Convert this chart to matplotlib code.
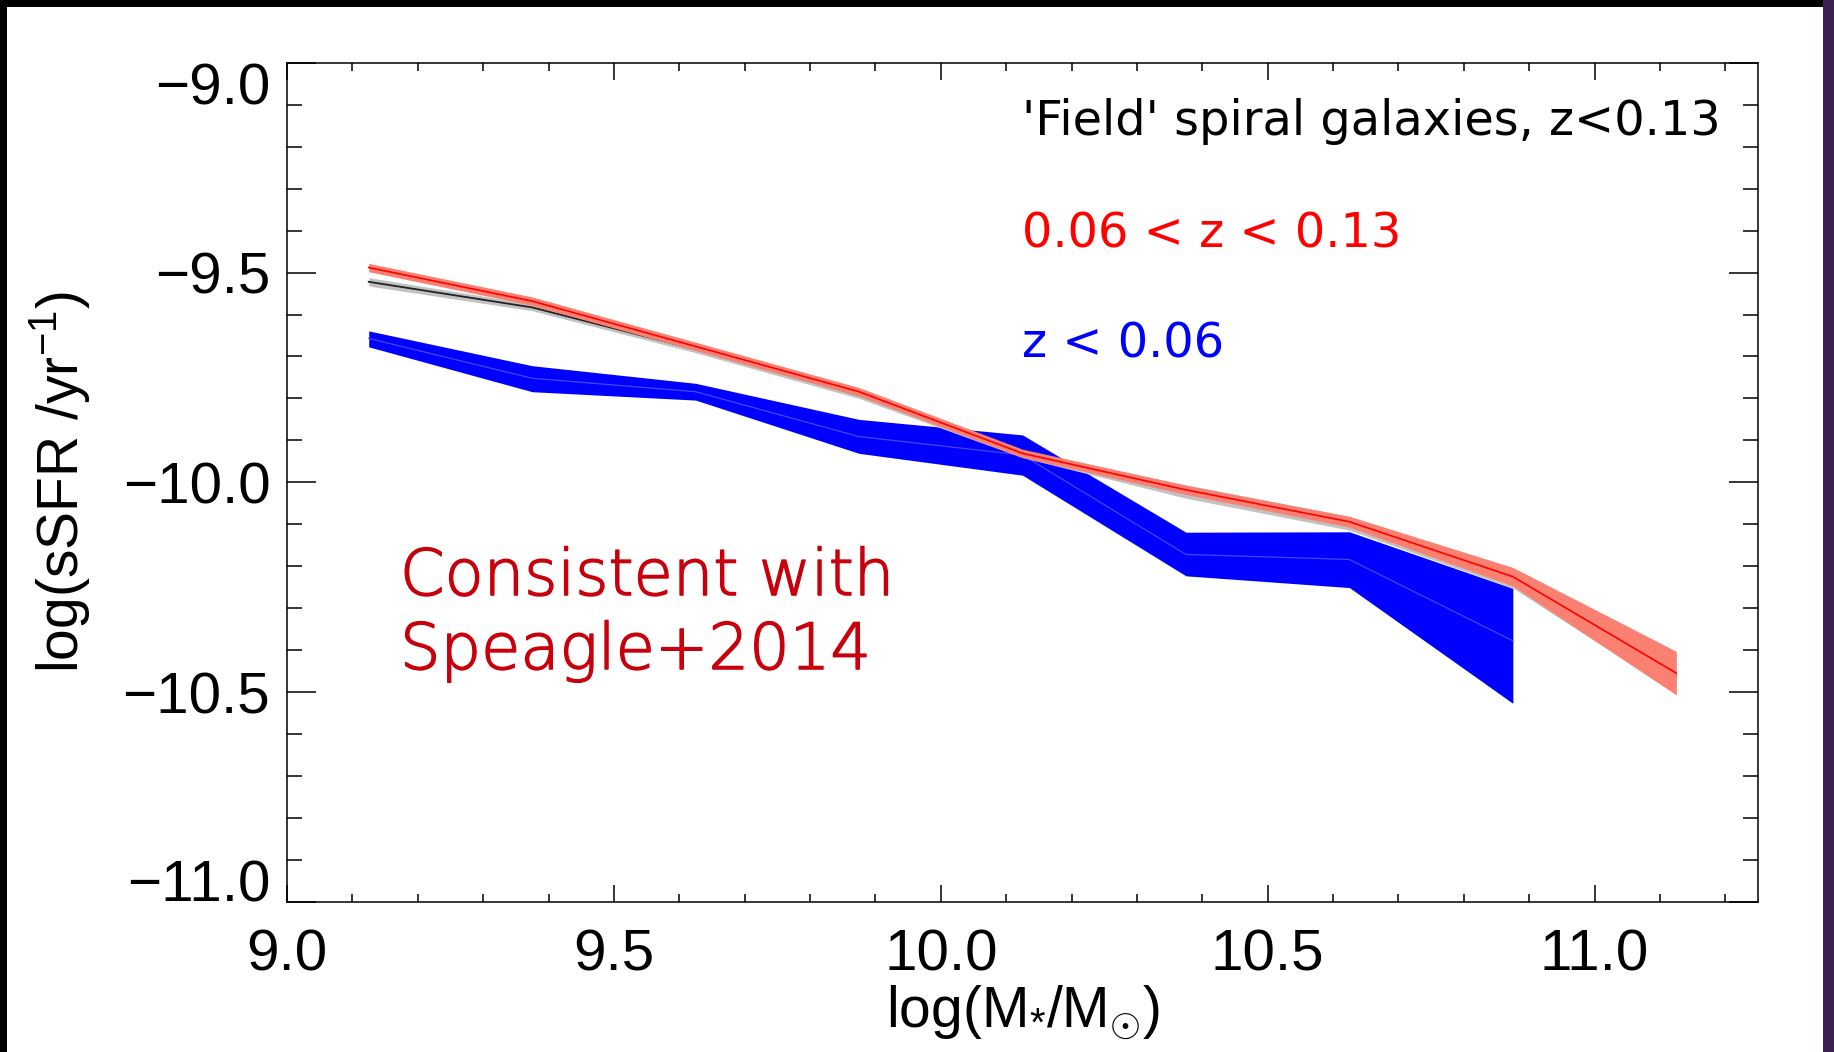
import matplotlib
matplotlib.use("Agg")
import matplotlib.pyplot as plt
import matplotlib.patheffects as pe
from matplotlib.patches import Rectangle
from matplotlib.ticker import MultipleLocator

# ---------------- data ----------------
mass_bins = [9.125, 9.375, 9.625, 9.875, 10.125, 10.375, 10.625, 10.875, 11.125]

# 'Field' spiral galaxies, z<0.13 (black line, grey band)
field_med = [-9.522, -9.583, -9.683, -9.792, -9.933, -10.022, -10.098, -10.232, -10.462]
field_err = [0.010, 0.008, 0.008, 0.008, 0.008, 0.016, 0.016, 0.020, 0.042]

# 0.06 < z < 0.13 (red line, salmon band)
red_med = [-9.488, -9.568, -9.676, -9.784, -9.931, -10.018, -10.094, -10.225, -10.455]
red_err = [0.010, 0.010, 0.010, 0.010, 0.010, 0.011, 0.013, 0.022, 0.052]

# z < 0.06 (blue band), first 8 bins
blue_mass = mass_bins[:8]
blue_med = [-9.657, -9.752, -9.784, -9.891, -9.935, -10.172, -10.184, -10.378]
blue_lo = [-9.677, -9.784, -9.804, -9.931, -9.983, -10.223, -10.251, -10.527]
blue_hi = [-9.639, -9.722, -9.764, -9.850, -9.887, -10.119, -10.118, -10.253]

xticks = [9.0, 9.5, 10.0, 10.5, 11.0]
xtick_labels = ["9.0", "9.5", "10.0", "10.5", "11.0"]
yticks = [-11.0, -10.5, -10.0, -9.5, -9.0]
ytick_labels = ["\u221211.0", "\u221210.5", "\u221210.0", "\u22129.5", "\u22129.0"]

# ---------------- style ----------------
plt.rcParams["font.family"] = ["Liberation Sans", "DejaVu Sans"]
plt.rcParams["mathtext.fontset"] = "custom"
plt.rcParams["mathtext.rm"] = "Liberation Sans"
plt.rcParams["mathtext.it"] = "Liberation Sans:italic"
plt.rcParams["mathtext.bf"] = "Liberation Sans:bold"

W, H = 1834, 1052
fig = plt.figure(figsize=(W / 100, H / 100), dpi=100, facecolor="black")

# white panel and purple strip on the right
fig.patches.append(Rectangle((7 / W, 0), (1823 - 7) / W, 1 - 7 / H,
                             transform=fig.transFigure, facecolor="white",
                             edgecolor="none", zorder=-10))
fig.patches.append(Rectangle((1823 / W, 0), 1 - 1823 / W, 1,
                             transform=fig.transFigure, facecolor="#3a2150",
                             edgecolor="none", zorder=-10))

ax = fig.add_axes([287 / W, 1 - 901.7 / H, (1758 - 287) / W, (901.7 - 62.9) / H])
ax.set_zorder(5)
ax.set_facecolor("white")

# blue band (z<0.06)
ax.fill_between(blue_mass, blue_lo, blue_hi, color="#0000ff", linewidth=0, zorder=2)
ax.plot(blue_mass, blue_med, color="#4646ff", linewidth=0.9, zorder=3)

# grey band + black line (field)
f_lo = [m - e for m, e in zip(field_med, field_err)]
f_hi = [m + e for m, e in zip(field_med, field_err)]
ax.fill_between(mass_bins, f_lo, f_hi, color="#c2c2c2", linewidth=0, zorder=4)
ax.plot(mass_bins, field_med, color="#222222", linewidth=1.3, zorder=5)

# red band + red line
r_lo = [m - e for m, e in zip(red_med, red_err)]
r_hi = [m + e for m, e in zip(red_med, red_err)]
ax.fill_between(mass_bins, r_lo, r_hi, color="#fa8072", linewidth=0, zorder=6)
ax.plot(mass_bins, red_med, color="#ff0000", linewidth=1.2, zorder=7)

ax.set_xlim(9.0, 11.25)
ax.set_ylim(-11.0, -9.0)

ax.set_xticks(xticks)
ax.set_xticklabels(xtick_labels)
ax.set_yticks(yticks)
ax.set_yticklabels(ytick_labels)
ax.xaxis.set_minor_locator(MultipleLocator(0.1))
ax.yaxis.set_minor_locator(MultipleLocator(0.1))

for sp in ax.spines.values():
    sp.set_linewidth(1.1)
    sp.set_color("black")

ax.tick_params(which="both", direction="in", top=True, right=True,
               width=1.1, color="black", labelsize=42)
ax.tick_params(axis="x", which="major", length=12, pad=19)
ax.tick_params(axis="x", which="minor", length=6)
ax.tick_params(axis="y", which="major", length=21, pad=12)
ax.tick_params(axis="y", which="minor", length=10.5)

ylabs = ax.get_yticklabels()
ylabs[0].set_va("baseline")
ylabs[-1].set_va("top")

ax.set_xlabel(r"log(M$_{*}$/M$_{\odot}$)", fontsize=41, labelpad=1)
ax.set_ylabel(r"log(sSFR /yr$^{-1}$)", fontsize=41, labelpad=22)

# annotations
ax.text(0.4997, 0.914, "'Field' spiral galaxies, z<0.13", transform=ax.transAxes,
        fontsize=34.5, family="DejaVu Sans", color="black", va="baseline", ha="left")
ax.text(0.4997, 0.7805, "0.06 < z < 0.13", transform=ax.transAxes,
        fontsize=34.5, family="DejaVu Sans", color="#ff0000", va="baseline", ha="left")
ax.text(0.4997, 0.6493, "z < 0.06", transform=ax.transAxes,
        fontsize=34.5, family="DejaVu Sans", color="#0000ff", va="baseline", ha="left")

thick = [pe.withStroke(linewidth=1.1, foreground="#c8000c")]
ax.text(0.0768, 0.3656, "Consistent with", transform=ax.transAxes,
        fontsize=46, family="DejaVu Sans", weight="light", color="#c8000c",
        va="baseline", ha="left", path_effects=thick)
ax.text(0.0768, 0.2774, "Speagle+2014", transform=ax.transAxes,
        fontsize=46, family="DejaVu Sans", weight="light", color="#c8000c",
        va="baseline", ha="left", path_effects=thick)

fig.savefig("out.png", dpi=100, facecolor=fig.get_facecolor())
